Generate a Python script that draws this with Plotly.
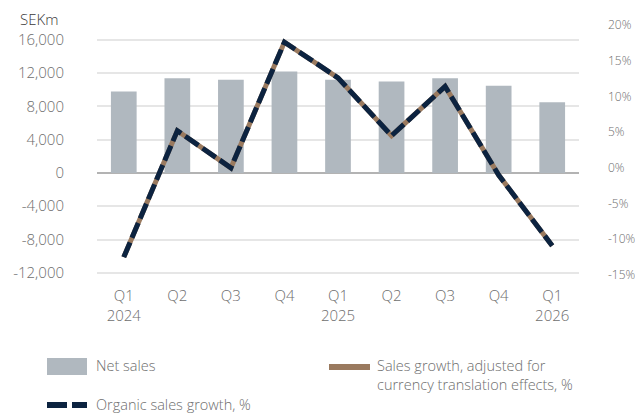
import plotly.graph_objects as go

quarters = ["Q1 2024", "Q2 2024", "Q3 2024", "Q4 2024", "Q1 2025", "Q2 2025", "Q3 2025", "Q4 2025", "Q1 2026"]
quarter_labels = ["Q1<br>2024", "Q2", "Q3", "Q4", "Q1<br>2025", "Q2", "Q3", "Q4", "Q1<br>2026"]
net_sales = [9800, 11400, 11200, 12200, 11200, 11000, 11400, 10500, 8500]
adjusted_growth = [-12.5, 5.2, 0.0, 17.6, 12.6, 4.5, 11.4, -1.0, -10.9]
organic_growth = [-12.5, 5.2, 0.0, 17.6, 12.6, 4.5, 11.4, -1.0, -10.9]

left_ticks = [-12000, -8000, -4000, 0, 4000, 8000, 12000, 16000]
left_labels = ["-12,000", "-8,000", "-4,000", "0", "4,000", "8,000", "12,000", "16,000"]
right_ticks = [-15, -10, -5, 0, 5, 10, 15, 20]
right_labels = ["-15%", "-10%", "-5%", "0%", "5%", "10%", "15%", "20%"]

GRAY = "#b0b8bf"
NAVY = "#0c2340"
BROWN = "#9a7a5f"
TXT = "#6e6e6e"
FONT = "Open Sans"
FS = 15
FW = 300

W, H = 635, 414
ML, MR, MT, MB = 97, 56, 25, 139
PW, PH = W - ML - MR, H - MT - MB

def px(x):
    return (x - ML) / PW

def py(y):
    return (H - MB - y) / PH

fig = go.Figure()
fig.add_trace(go.Bar(x=quarters, y=net_sales, marker=dict(color=GRAY, line=dict(width=0)),
                     name="Net sales", showlegend=False))
fig.add_trace(go.Scatter(x=quarters, y=adjusted_growth, mode="lines", yaxis="y2",
                         line=dict(color=BROWN, width=5),
                         name="Sales growth, adjusted for currency translation effects, %", showlegend=False))
fig.add_trace(go.Scatter(x=quarters, y=organic_growth, mode="lines", yaxis="y2",
                         line=dict(color=NAVY, width=5, dash="16px,5px"),
                         name="Organic sales growth, %", showlegend=False))

shapes = [
    dict(type="rect", xref="paper", yref="paper", x0=px(47), x1=px(87), y0=py(375), y1=py(358),
         fillcolor=GRAY, line=dict(width=0)),
    dict(type="line", xref="paper", yref="paper", x0=px(329), x1=px(370), y0=py(367), y1=py(367),
         line=dict(color=BROWN, width=6)),
    dict(type="line", xref="paper", yref="paper", x0=px(47), x1=px(87), y0=py(405), y1=py(405),
         line=dict(color=NAVY, width=6, dash="20px,5px")),
]

def tf(color=TXT, size=FS):
    return dict(family=FONT, size=size, color=color, weight=FW)

annotations = [
    dict(text="SEKm", xref="paper", yref="paper", x=px(18), y=py(19), xanchor="left", yanchor="middle",
         showarrow=False, font=tf("#3a3a3a", size=15)),
    dict(text="Net sales", xref="paper", yref="paper", x=px(94), y=py(366), xanchor="left", yanchor="middle",
         showarrow=False, font=tf(size=14.5)),
    dict(text="Sales growth, adjusted for<br>currency translation effects, %", xref="paper", yref="paper",
         x=px(375), y=py(375), xanchor="left", yanchor="middle", align="left",
         showarrow=False, font=tf(size=14.5)),
    dict(text="Organic sales growth, %", xref="paper", yref="paper", x=px(94), y=py(404), xanchor="left",
         yanchor="middle", showarrow=False, font=tf(size=14.5)),
]

fig.update_layout(
    width=W, height=H,
    margin=dict(l=ML, r=MR, t=MT, b=MB, autoexpand=False),
    paper_bgcolor="white", plot_bgcolor="white",
    bargap=0.52,
    showlegend=False,
    font=tf(),
    xaxis=dict(type="category", tickvals=quarters, ticktext=quarter_labels, showgrid=False,
               zeroline=False, showline=False, ticks="", ticklabelstandoff=10, automargin=False,
               tickfont=tf()),
    yaxis=dict(range=[-12270, 17800], tickvals=left_ticks, ticktext=left_labels,
               showgrid=True, gridcolor="#e6e6e6", gridwidth=2,
               zeroline=True, zerolinecolor="#b3b3b3", zerolinewidth=2,
               showline=False, ticks="", ticklabelstandoff=32, automargin=False,
               tickfont=tf()),
    yaxis2=dict(range=[-15, 20], overlaying="y", side="right", tickvals=right_ticks, ticktext=right_labels,
                showgrid=False, zeroline=False, showline=False, ticks="", ticklabelstandoff=28,
                automargin=False, tickfont=tf(size=12)),
    shapes=shapes,
    annotations=annotations,
)

fig.write_html("out.html")
